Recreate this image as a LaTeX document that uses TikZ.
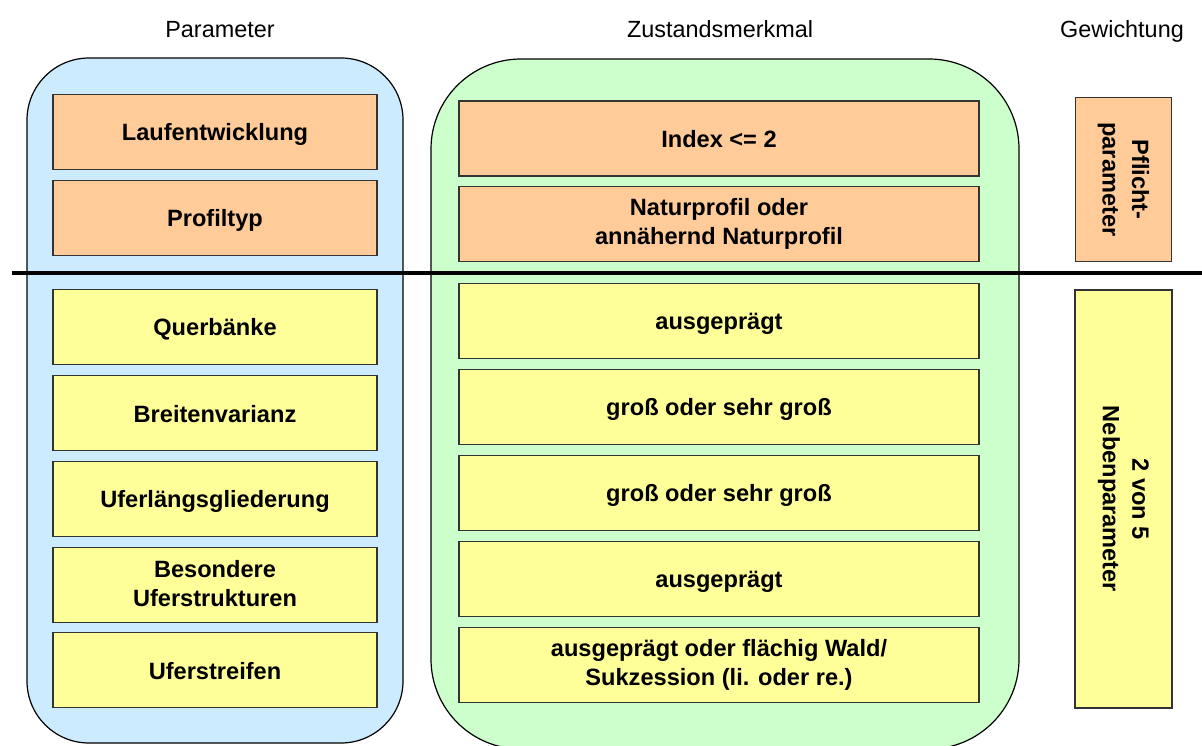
\documentclass[tikz,border=0pt]{standalone}
\usepackage{fontspec}
\setmainfont{Liberation Sans}
\definecolor{paneBlue}{HTML}{CCEBFF}
\definecolor{paneGreen}{HTML}{CCFFCC}
\definecolor{cellOrange}{HTML}{FFCC99}
\definecolor{cellYellow}{HTML}{FFFF99}
\definecolor{edgeGray}{HTML}{333333}
% fixed line box so that every line is centred the same way
\newcommand{\linestrut}{\rule[-3.5pt]{0pt}{25.5pt}}
\tikzset{
  pane/.style={draw=black, line width=1.2pt},
  celltext/.style={align=center, inner sep=0pt,
    font=\fontsize{23.6}{29.5}\selectfont\bfseries,
    execute at begin node=\linestrut, execute at end node=\linestrut},
  cell/.style={draw=edgeGray, line width=1.3pt, celltext},
  paramcell/.style={cell, minimum width=324pt, minimum height=75pt},
  statecell/.style={cell, minimum width=520pt, minimum height=75pt},
  head/.style={font=\fontsize{23.4}{28}\selectfont, inner sep=0pt, anchor=base},
  mandatory/.style={fill=cellOrange},
  optional/.style={fill=cellYellow},
}
\begin{document}
\begin{tikzpicture}[x=1pt,y=-1pt]
\useasboundingbox (0,0) rectangle (1202,745);

% column headings
\node[head] (hParam) at (220,37.5) {Parameter};
\node[head] (hState) at (720,37.5) {Zustandsmerkmal};
\node[head] (hWeight) at (1122,37.5) {Gewichtung};

% rounded panes behind the two columns
\draw[pane, fill=paneBlue, rounded corners=62pt] (27,58) rectangle (403,743);
\draw[pane, fill=paneGreen, rounded corners=90pt] (431,59) rectangle (1019,749);

% parameters
\node[paramcell, mandatory] (p1) at (215,132) {Laufentwicklung};
\node[paramcell, mandatory] (p2) at (215,218) {Profiltyp};
\node[paramcell, optional] (p3) at (215,327) {Querbänke};
\node[paramcell, optional] (p4) at (215,413) {Breitenvarianz};
\node[paramcell, optional] (p5) at (215,499) {Uferlängsgliederung};
\node[paramcell, optional] (p6) at (215,585) {Besondere\\Uferstrukturen};
\node[paramcell, optional] (p7) at (215,670) {Uferstreifen};

% required states
\node[statecell, mandatory] (s1) at (719,138.5) {Index <= 2};
\node[statecell, mandatory] (s2) at (719,224) {Naturprofil oder\\annähernd Naturprofil};
\node[statecell, optional] (s3) at (719,321) {ausgeprägt};
\node[statecell, optional] (s4) at (719,407) {groß oder sehr groß};
\node[statecell, optional] (s5) at (719,493) {groß oder sehr groß};
\node[statecell, optional] (s6) at (719,579) {ausgeprägt};
\node[statecell, optional] (s7) at (719,665) {ausgeprägt oder flächig Wald/\\Sukzession (li. oder re.)};

% weighting
\node[cell, mandatory, minimum width=96pt, minimum height=164pt] (w1) at (1123.5,179.5) {};
\node[celltext, rotate=-90] (w1t) at (w1.center) {Pflicht-\\parameter};
\node[cell, optional, minimum width=97pt, minimum height=418pt] (w2) at (1123.5,499) {};
\node[celltext, rotate=-90] (w2t) at (w2.center) {2 von 5\\Nebenparameter};

% divider between mandatory and optional parameters
\coordinate (divL) at (12,273);
\coordinate (divR) at (1202,273);
\draw[line width=3.5pt] (divL) -- (divR);
\end{tikzpicture}
\end{document}
